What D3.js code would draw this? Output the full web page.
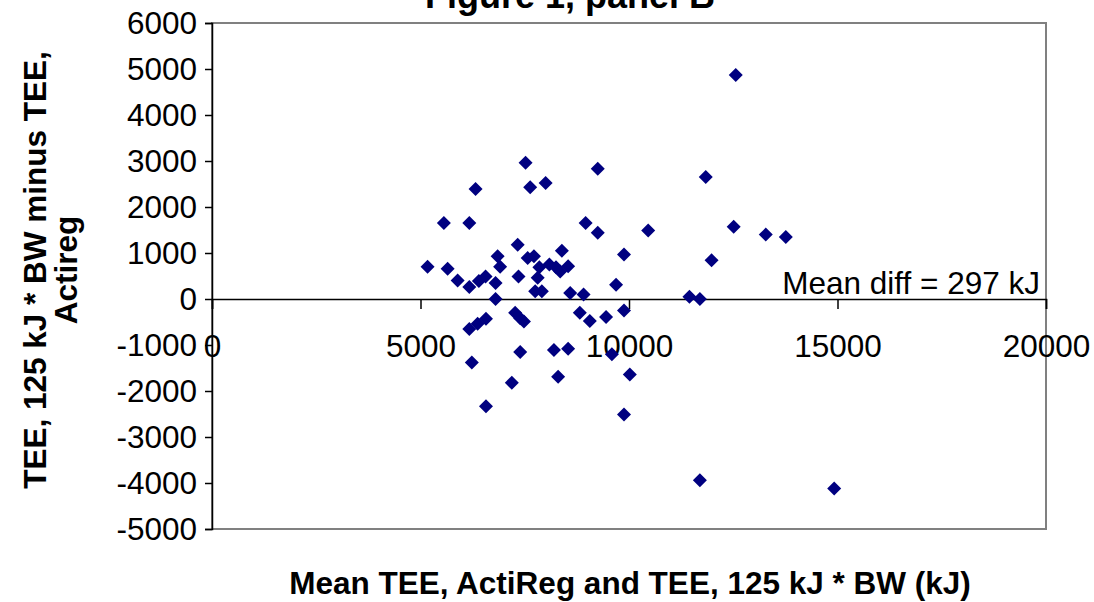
<!DOCTYPE html>
<html>
<head>
<meta charset="utf-8">
<script src="https://cdn.jsdelivr.net/npm/d3@7"></script>
<style>
  html, body { margin: 0; padding: 0; background: #ffffff; }
  svg { display: block; }
  text { font-family: "Liberation Sans", Arial, sans-serif; fill: #000; }
</style>
</head>
<body>
<svg id="chart" width="1094" height="602"></svg>
<script>
// ---- data ----
const meanTEE = [
  12560, 7520, 9250, 6320, 7630, 8000, 11840, 5560, 6170, 8960,
  9250, 10460, 12510, 13280, 13760, 7330, 8390, 9880, 11980, 6850,
  7570, 7720, 5170, 5650, 6910, 7850, 8090, 8250, 8350, 8540,
  5890, 6170, 6400, 6560, 6800, 7350, 7810, 6800, 7750, 7910,
  8590, 8910, 9690, 11450, 11700, 9880, 9450, 9060, 8820, 7270,
  7390, 7480, 6170, 6370, 6570, 7390, 8200, 8540, 9590, 6230,
  7190, 8300, 10020, 6570, 9880, 11700, 14920
];
const diffTEE = [
  4870, 2960, 2830, 2390, 2430, 2520, 2650, 1650, 1650, 1650,
  1440, 1490, 1570, 1400, 1350, 1180, 1050, 970, 840, 930,
  890, 930, 700, 660, 700, 690, 750, 690, 600, 710,
  400, 260, 390, 490, 350, 490, 460, 0, 170, 170,
  130, 100, 310, 50, 0, -250, -390, -480, -300, -300,
  -420, -490, -650, -540, -430, -1150, -1110, -1080, -1200, -1380,
  -1820, -1690, -1640, -2330, -2510, -3940, -4120
];
const xTickValues = [0, 5000, 10000, 15000, 20000];
const yTickValues = [-5000, -4000, -3000, -2000, -1000, 0, 1000, 2000, 3000, 4000, 5000, 6000];
const titleText = "Figure 1, panel B";
const yTitleLines = ["TEE, 125 kJ * BW minus TEE,", "Actireg"];
const xTitleText = "Mean TEE, ActiReg and TEE, 125 kJ * BW (kJ)";
const meanLabel = "Mean diff = 297 kJ";

// ---- layout ----
const svg = d3.select("#chart");
const plot = { left: 212, right: 1046, top: 23, bottom: 529 };
const x = d3.scaleLinear().domain([0, 20000]).range([plot.left, plot.right]);
const y = d3.scaleLinear().domain([-5000, 6000]).range([plot.bottom, plot.top]);
const fontSize = 31.5;
const plainNumber = d => String(d);   // hyphen-minus, as in the reference

// plot area border (grey)
svg.append("rect")
  .attr("x", plot.left).attr("y", plot.top)
  .attr("width", plot.right - plot.left).attr("height", plot.bottom - plot.top)
  .attr("fill", "none").attr("stroke", "#808080").attr("stroke-width", 2);

// y axis
const yAxis = d3.axisLeft(y).tickValues(yTickValues).tickSize(7).tickPadding(8)
  .tickFormat(plainNumber);
const gy = svg.append("g").attr("transform", `translate(${plot.left},0)`).call(yAxis);
gy.select(".domain").attr("stroke", "#000").attr("stroke-width", 1.5);
gy.selectAll(".tick line").attr("stroke", "#000").attr("stroke-width", 1.5);
gy.selectAll(".tick text").attr("font-size", fontSize)
  .attr("font-family", "'Liberation Sans', Arial, sans-serif").attr("fill", "#000");

// x axis at y = 0
const xAxis = d3.axisBottom(x).tickValues(xTickValues).tickSize(10).tickPadding(26)
  .tickFormat(plainNumber);
const gx = svg.append("g").attr("transform", `translate(0,${y(0)})`).call(xAxis);
gx.select(".domain").attr("stroke", "#000").attr("stroke-width", 1.5);
gx.selectAll(".tick line").attr("stroke", "#000").attr("stroke-width", 1.5);
gx.selectAll(".tick text").attr("font-size", fontSize)
  .attr("font-family", "'Liberation Sans', Arial, sans-serif").attr("fill", "#000");

// points (diamonds)
const r = 7;
const diamond = `M0,${-r}L${r},0L0,${r}L${-r},0Z`;
svg.append("g").selectAll("path")
  .data(meanTEE.map((v, i) => [v, diffTEE[i]]))
  .join("path")
  .attr("d", diamond)
  .attr("transform", d => `translate(${x(d[0])},${y(d[1])})`)
  .attr("fill", "#000080");

// mean diff label
svg.append("text")
  .attr("x", 1040).attr("y", y(0) - 5)
  .attr("text-anchor", "end").attr("font-size", fontSize)
  .text(meanLabel);

// title (cut off at top, as in the reference)
svg.append("text")
  .attr("x", 570).attr("y", 8)
  .attr("text-anchor", "middle").attr("font-size", 36).attr("font-weight", "bold")
  .text(titleText);

// y title
const yt = svg.append("text")
  .attr("transform", `translate(0,${270}) rotate(-90)`)
  .attr("text-anchor", "middle").attr("font-size", fontSize).attr("font-weight", "bold");
yt.selectAll("tspan").data(yTitleLines).join("tspan")
  .attr("x", 0).attr("y", (d, i) => 46 + i * 31)
  .text(d => d);

// x title
svg.append("text")
  .attr("x", 630).attr("y", 594)
  .attr("text-anchor", "middle").attr("font-size", fontSize).attr("font-weight", "bold")
  .text(xTitleText);
</script>
</body>
</html>
